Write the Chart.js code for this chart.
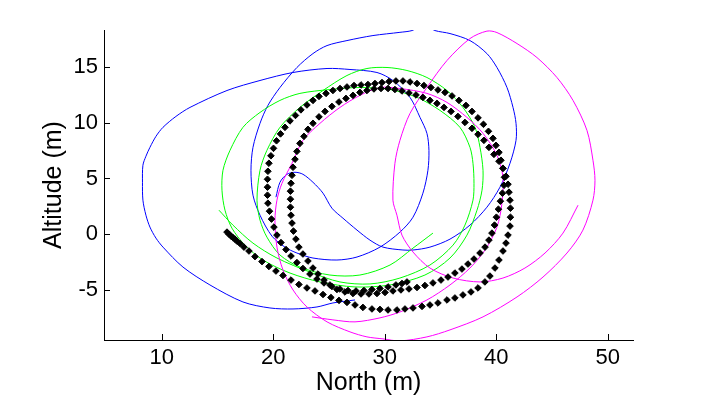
<!DOCTYPE html>
<html>
<head>
<meta charset="utf-8">
<title>Trajectory</title>
<script src="https://cdn.jsdelivr.net/npm/chart.js@4"></script>
<style>
	html, body { margin: 0; padding: 0; background: #fff; }
	#wrap { width: 713px; height: 398px; }
</style>
</head>
<body>
<div id="wrap"><canvas id="trajectoryChart" width="713" height="398"></canvas></div>
<script>
// axis ticks
const xTicks = [10, 20, 30, 40, 50];
const yTicks = [-5, 0, 5, 10, 15];

// blue track
const blueNorth = [20.25, 20.61, 21.24, 21.96, 22.67, 23.57, 24.47, 25.27, 26.26, 27.52, 28.68, 29.85, 31.64, 32.54, 34.06, 35.86, 37.65, 39.17, 40.34, 41.24, 41.78, 41.78, 41.51, 40.97, 40.07, 39.17, 37.65, 35.86, 34.51, 33.52, 32.45, 31.37, 28.95, 26.62, 24.83, 23.57, 22.13, 20.61, 19.53, 18.82, 18.19, 18.01, 18.19, 18.82, 19.89, 21.06, 22.13, 23.57, 25.72, 27.52, 29.58, 31.37, 32.54, 33.43, 33.88, 33.97, 33.79, 33.17, 32.27, 30.74, 29.31, 26.89, 24.83, 21.78, 18.82, 15.86, 12.54, 11.28, 10.12, 9.49, 8.95, 8.59, 8.32, 8.28, 8.32, 8.59, 8.95, 9.49, 10.12, 11.91, 14.33, 17.29, 19.71, 21.78, 23.93, 25.36, 27.34];
const blueAlt = [3.32, 4.66, 5.38, 5.56, 5.38, 4.66, 3.68, 2.33, 1.43, 0.36, -0.54, -1.17, -1.43, -1.43, -1.17, -0.45, 0.81, 2.42, 4.22, 6.37, 8.43, 9.96, 11.39, 13.18, 14.98, 16.23, 17.40, 18.03, 18.30, 18.80, 18.30, 18.14, 17.85, 17.40, 16.95, 16.23, 14.98, 13.18, 11.57, 9.96, 7.80, 5.74, 3.50, 1.70, -0.18, -1.17, -1.70, -2.15, -2.33, -2.06, -1.17, 0.18, 1.52, 3.68, 5.74, 7.53, 9.06, 10.49, 12.29, 13.81, 14.53, 14.80, 14.89, 14.53, 13.81, 12.91, 11.39, 10.58, 9.60, 8.79, 7.80, 7.00, 6.19, 4.66, 3.05, 1.70, 0.63, -0.36, -1.17, -2.96, -4.57, -6.10, -6.64, -6.73, -6.55, -6.19, -5.92];

// green track
const greenNorth = [15.14, 16.39, 18.19, 20.34, 23.30, 25.99, 28.68, 31.37, 34.06, 36.13, 37.20, 37.92, 38.01, 37.92, 37.65, 36.75, 34.96, 32.90, 30.48, 27.78, 25.09, 22.40, 20.61, 18.82, 17.29, 16.13, 15.50, 15.41, 15.68, 16.30, 17.47, 19.09, 21.51, 24.20, 27.34, 30.48, 33.61, 35.86, 37.38, 38.28, 38.73, 38.82, 38.55, 38.10, 37.02, 35.59, 33.79, 32.00, 30.21, 28.41, 26.62, 24.47, 22.40, 20.61, 19.44, 18.82, 18.55, 18.82, 19.44, 20.61, 22.40, 25.09, 27.78, 30.48, 32.54, 34.33];
const greenAlt = [2.15, 0.81, -0.81, -2.15, -3.41, -4.30, -4.48, -3.95, -2.78, -0.99, 0.81, 3.05, 4.57, 6.37, 7.80, 9.60, 11.12, 12.29, 13.00, 13.18, 13.00, 12.65, 12.02, 10.94, 9.60, 7.53, 5.74, 3.95, 2.15, 0.54, -0.99, -2.33, -3.50, -4.30, -4.75, -4.57, -3.68, -2.15, -0.09, 2.15, 3.95, 5.74, 7.80, 9.60, 11.39, 12.91, 14.08, 14.71, 14.98, 14.89, 14.26, 12.91, 11.39, 9.60, 7.53, 5.74, 3.05, 1.26, -0.27, -1.88, -2.96, -3.68, -3.68, -2.78, -1.26, 0.09];

// magenta track
const magentaNorth = [23.48, 25.36, 27.34, 29.58, 31.37, 33.79, 35.86, 37.65, 39.00, 40.07, 40.52, 40.61, 40.07, 38.82, 37.38, 35.59, 33.79, 31.37, 29.58, 27.78, 25.99, 24.20, 22.67, 21.69, 20.79, 20.34, 20.16, 20.34, 20.88, 21.78, 23.03, 24.83, 26.89, 28.41, 29.85, 31.37, 33.79, 35.86, 38.82, 41.87, 44.20, 46.35, 47.78, 48.68, 48.86, 48.68, 48.14, 46.89, 45.45, 43.66, 41.87, 40.07, 39.17, 37.65, 35.59, 33.79, 32.27, 31.37, 30.92, 30.74, 31.10, 31.55, 32.54, 34.06, 36.13, 38.55, 40.61, 42.58, 44.38, 45.99, 47.34];
const magentaAlt = [-7.44, -7.71, -7.89, -7.53, -7.00, -5.92, -4.57, -3.05, -1.43, 0.63, 2.78, 5.11, 7.09, 9.06, 10.49, 11.84, 12.65, 13.09, 13.18, 12.47, 11.39, 9.96, 8.43, 6.37, 4.57, 3.05, 1.26, -1.17, -3.23, -5.02, -6.55, -7.89, -8.79, -9.24, -9.42, -9.60, -9.24, -8.61, -7.44, -5.65, -3.86, -1.70, 0.36, 3.05, 4.84, 6.64, 9.33, 12.02, 14.08, 15.87, 17.13, 18.12, 18.25, 17.58, 15.61, 13.18, 10.85, 8.43, 6.37, 3.05, 1.70, -0.09, -1.61, -3.05, -3.95, -4.30, -3.95, -3.05, -1.70, 0.09, 2.60];

// black reference track (markers)
const blackNorth = [15.86, 16.04, 16.22, 16.39, 16.57, 16.75, 17.03, 17.38, 17.83, 18.37, 19.00, 19.62, 20.25, 20.88, 21.60, 22.31, 23.03, 23.75, 24.47, 25.18, 25.90, 26.62, 27.34, 28.05, 28.86, 29.58, 30.30, 31.10, 31.82, 32.54, 33.35, 34.06, 34.78, 35.59, 36.30, 37.02, 37.74, 38.37, 38.99, 39.44, 39.89, 40.25, 40.61, 40.88, 41.06, 41.24, 41.28, 41.28, 41.24, 41.15, 41.06, 40.88, 40.61, 40.25, 39.80, 39.35, 38.90, 38.37, 37.83, 37.20, 36.57, 35.95, 35.32, 34.69, 34.06, 33.43, 32.81, 32.18, 31.55, 30.92, 30.30, 29.67, 29.04, 28.41, 27.78, 27.16, 26.53, 25.90, 25.27, 24.65, 24.11, 23.57, 23.12, 22.76, 22.40, 22.13, 21.96, 21.78, 21.69, 21.60, 21.55, 21.55, 21.55, 21.60, 21.69, 21.82, 22.04, 22.31, 22.67, 23.12, 23.57, 24.02, 24.56, 25.09, 25.72, 26.44, 27.16, 27.88, 28.59, 29.31, 30.03, 30.74, 31.46, 32.18, 32.90, 33.61, 34.33, 35.05, 35.68, 36.30, 36.93, 37.47, 38.01, 38.55, 39.00, 39.35, 39.62, 39.85, 40.02, 40.20, 40.38, 40.56, 40.70, 40.74, 40.61, 40.43, 40.25, 39.98, 39.71, 39.31, 38.86, 38.37, 37.83, 37.29, 36.66, 36.04, 35.41, 34.78, 34.15, 33.52, 32.90, 32.27, 31.64, 31.01, 30.39, 29.76, 29.13, 28.50, 27.88, 27.25, 26.62, 26.00, 25.36, 24.74, 24.11, 23.57, 23.03, 22.49, 22.00, 21.51, 21.06, 20.66, 20.30, 20.03, 19.80, 19.62, 19.53, 19.49, 19.49, 19.49, 19.53, 19.67, 19.85, 20.07, 20.34, 20.70, 21.15, 21.60, 22.13, 22.67, 23.30, 23.93, 24.56, 25.27, 25.99, 26.71, 27.43, 28.14, 28.86, 29.58, 30.30, 31.01, 31.55, 32.00];
const blackAlt = [0.18, 0.00, -0.18, -0.31, -0.45, -0.63, -0.85, -1.17, -1.52, -2.02, -2.47, -2.91, -3.32, -3.72, -4.13, -4.53, -4.84, -5.11, -5.43, -5.70, -5.96, -6.14, -6.37, -6.59, -6.73, -6.77, -6.82, -6.82, -6.73, -6.64, -6.50, -6.37, -6.19, -5.92, -5.74, -5.47, -5.20, -4.84, -4.30, -3.77, -3.05, -2.33, -1.52, -0.81, -0.09, 0.72, 1.52, 2.33, 3.05, 3.77, 4.48, 5.20, 5.92, 6.55, 7.17, 7.80, 8.43, 8.97, 9.51, 10.04, 10.58, 11.03, 11.39, 11.75, 12.02, 12.29, 12.51, 12.69, 12.87, 13.00, 13.09, 13.09, 13.05, 12.91, 12.74, 12.47, 12.20, 11.88, 11.48, 11.03, 10.54, 9.96, 9.42, 8.79, 8.16, 7.44, 6.73, 6.01, 5.29, 4.57, 3.86, 3.14, 2.42, 1.70, 0.99, 0.27, -0.45, -1.17, -1.79, -2.42, -3.05, -3.59, -4.13, -4.57, -4.98, -5.20, -5.34, -5.38, -5.38, -5.34, -5.25, -5.11, -5.02, -4.93, -4.80, -4.62, -4.39, -4.13, -3.86, -3.50, -3.14, -2.69, -2.24, -1.70, -1.17, -0.54, 0.09, 0.81, 1.52, 2.24, 2.96, 3.68, 4.39, 5.11, 5.92, 6.64, 7.35, 7.98, 8.61, 9.24, 9.87, 10.45, 11.03, 11.57, 12.02, 12.42, 12.74, 12.96, 13.18, 13.36, 13.54, 13.68, 13.77, 13.77, 13.72, 13.63, 13.54, 13.45, 13.41, 13.36, 13.23, 13.09, 12.91, 12.65, 12.38, 12.02, 11.61, 11.17, 10.67, 10.18, 9.60, 9.01, 8.39, 7.71, 7.04, 6.37, 5.65, 4.93, 4.22, 3.50, 2.78, 2.06, 1.35, 0.63, -0.09, -0.76, -1.39, -1.97, -2.56, -3.09, -3.59, -4.04, -4.39, -4.71, -4.93, -5.07, -5.11, -5.07, -4.98, -4.89, -4.75, -4.57, -4.44, -4.30];

document.addEventListener('DOMContentLoaded', () => {
	const canvas = document.getElementById('trajectoryChart');
	const toPoints = (xs, ys) => xs.map((x, i) => ({ x: x, y: ys[i] }));
	const fontFamily = '"Liberation Sans", Arial, Helvetica, sans-serif';

	// matlab style ticks pointing into the plot
	const inwardTicks = {
		id: 'inwardTicks',
		afterDraw(chart) {
			const { ctx, chartArea, scales } = chart;
			ctx.save();
			ctx.strokeStyle = '#000';
			ctx.lineWidth = 1;
			ctx.beginPath();
			xTicks.forEach(v => {
				const px = Math.round(scales.x.getPixelForValue(v)) + 0.5;
				ctx.moveTo(px, chartArea.bottom);
				ctx.lineTo(px, chartArea.bottom - 6);
			});
			yTicks.forEach(v => {
				const py = Math.round(scales.y.getPixelForValue(v)) + 0.5;
				ctx.moveTo(chartArea.left, py);
				ctx.lineTo(chartArea.left + 6, py);
			});
			ctx.stroke();
			ctx.restore();
		}
	};

	const lineSet = (data, color, order) => ({
		data: data,
		showLine: true,
		borderColor: color,
		backgroundColor: color,
		borderWidth: 1,
		pointRadius: 0,
		tension: 0.3,
		order: order
	});

	new Chart(canvas.getContext('2d'), {
		type: 'scatter',
		data: {
			datasets: [
				{
					data: toPoints(blackNorth, blackAlt),
					showLine: false,
					pointStyle: 'rectRot',
					pointRadius: 3.3,
					borderWidth: 1,
					borderColor: '#000',
					backgroundColor: '#000',
					order: 0
				},
				lineSet(toPoints(magentaNorth, magentaAlt), '#ff00ff', 1),
				lineSet(toPoints(greenNorth, greenAlt), '#00ff00', 2),
				lineSet(toPoints(blueNorth, blueAlt), '#0000ff', 3)
			]
		},
		options: {
			responsive: false,
			animation: false,
			events: [],
			layout: {
				padding: { top: 30, right: 80, left: 0, bottom: 0 }
			},
			scales: {
				x: {
					type: 'linear',
					position: 'bottom',
					min: 4.83,
					max: 52.27,
					afterBuildTicks: (axis) => { axis.ticks = xTicks.map(v => ({ value: v })); },
					afterFit: (scale) => { scale.height = 58; },
					grid: { display: false, drawTicks: false },
					border: { display: true, color: '#000', width: 1 },
					ticks: {
						color: '#000',
						padding: 5,
						maxRotation: 0,
						font: { family: fontFamily, size: 22 }
					},
					title: {
						display: true,
						text: 'North (m)',
						color: '#000',
						padding: { top: 0, bottom: 0 },
						font: { family: fontFamily, size: 25 }
					}
				},
				y: {
					type: 'linear',
					position: 'left',
					min: -9.52,
					max: 18.35,
					afterBuildTicks: (axis) => { axis.ticks = yTicks.map(v => ({ value: v })); },
					afterFit: (scale) => { scale.width = 104; },
					grid: { display: false, drawTicks: false },
					border: { display: true, color: '#000', width: 1 },
					ticks: {
						color: '#000',
						padding: 6,
						font: { family: fontFamily, size: 22 }
					},
					title: {
						display: true,
						text: 'Altitude (m)',
						color: '#000',
						padding: { top: 39, bottom: 0 },
						font: { family: fontFamily, size: 25 }
					}
				}
			},
			plugins: {
				legend: { display: false },
				tooltip: { enabled: false }
			}
		},
		plugins: [inwardTicks]
	});
});
</script>
</body>
</html>
